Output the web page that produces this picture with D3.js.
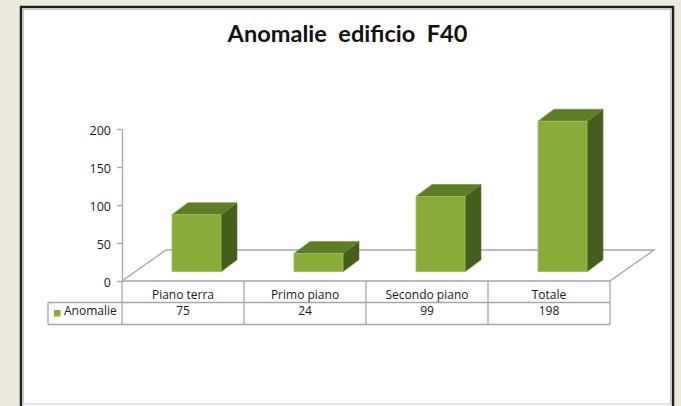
<!DOCTYPE html>
<html>
<head>
<meta charset="utf-8">
<script src="https://cdn.jsdelivr.net/npm/d3@7"></script>
<style>
  html, body { margin: 0; padding: 0; background: #ece9df; }
  svg { display: block; }
</style>
</head>
<body>
<svg id="chart" width="681" height="406"></svg>
<script>
// ---- data ----
const title = "Anomalie  edificio  F40";
const categories = ["Piano terra", "Primo piano", "Secondo piano", "Totale"];
const seriesName = "Anomalie";
const values = [75, 24, 99, 198];
const yTicks = [0, 50, 100, 150, 200];

// ---- layout ----
const svg = d3.select("#chart");
const font = "'Open Sans', 'DejaVu Sans', sans-serif";
const textColor = "#1a1a1a";

// chart frame
svg.append("rect").attr("x", 21).attr("y", 7).attr("width", 652).attr("height", 410)
  .attr("fill", "#ffffff").attr("stroke", "#1e1e1e").attr("stroke-width", 2.5);
svg.append("rect").attr("x", 23.5).attr("y", 9.5).attr("width", 647).attr("height", 394.5)
  .attr("fill", "none").attr("stroke", "#c8c8c8").attr("stroke-width", 1);

// title
const t = svg.append("text").attr("x", 347.5).attr("y", 42)
  .attr("text-anchor", "middle").attr("font-family", "Lato, 'Open Sans', sans-serif")
  .attr("font-weight", "bold").attr("font-size", 21).attr("fill", "#111")
  .style("white-space", "pre").text(title);
const tw = t.node().getComputedTextLength();
t.attr("font-size", 21 * 240 / tw);

const x = d3.scaleBand().domain(categories).range([122, 610]).padding(0);
const y = d3.scaleLinear().domain([0, 200]).range([281, 129]);
const bw = x.bandwidth();

const depth = { dx: 44, dy: -31 };      // floor depth
const baseOff = { dx: 13.5, dy: -9.3 }; // bar base offset into depth
const barDepth = { dx: 16, dy: -12 };
const barW = 49;

const gridColor = "#a6a6a6";

// floor (3D)
const y0 = y(0);
svg.append("path")
  .attr("d", `M${x.range()[0]},${y0} L${x.range()[0] + depth.dx},${y0 + depth.dy} L${x.range()[1] + depth.dx},${y0 + depth.dy} L${x.range()[1]},${y0}`)
  .attr("fill", "none").attr("stroke", gridColor).attr("stroke-width", 1.3);

// y axis
const axis = svg.append("g").attr("transform", `translate(${x.range()[0]},0)`)
  .call(d3.axisLeft(y).tickValues(yTicks).tickSize(5).tickPadding(6).tickSizeOuter(0));
axis.select(".domain").attr("stroke", gridColor).attr("stroke-width", 1.3);
axis.selectAll(".tick line").attr("stroke", gridColor).attr("stroke-width", 1.3);
axis.selectAll(".tick text").attr("font-family", font).attr("font-size", 12.5)
  .attr("fill", textColor).attr("dy", "0.42em");

// bars
const cFront = "#89ab3a", cTop = "#5d7d27", cSide = "#445f1b";
const bars = svg.append("g").selectAll("g").data(categories).join("g");
bars.each(function (c, i) {
  const g = d3.select(this);
  const xl = x(c) + (bw - barW) / 2 + baseOff.dx;
  const xr = xl + barW;
  const yb = y(0) + baseOff.dy;
  const yt = y(values[i]) + baseOff.dy;
  g.append("path")
    .attr("d", `M${xr},${yb} L${xr + barDepth.dx},${yb + barDepth.dy} L${xr + barDepth.dx},${yt + barDepth.dy} L${xr},${yt} Z`)
    .attr("fill", cSide).attr("stroke", "#55722a").attr("stroke-width", 0.6);
  g.append("path")
    .attr("d", `M${xl},${yt} L${xl + barDepth.dx},${yt + barDepth.dy} L${xr + barDepth.dx},${yt + barDepth.dy} L${xr},${yt} Z`)
    .attr("fill", cTop).attr("stroke", "#6f8f35").attr("stroke-width", 0.6);
  g.append("rect").attr("x", xl).attr("y", yt).attr("width", barW).attr("height", yb - yt)
    .attr("fill", cFront).attr("stroke", "#a4c25a").attr("stroke-width", 0.8);
});

// data table
const rowH1 = [281, 302.5], rowH2 = [302.5, 324.5];
const tableLeft = 48;
const tbl = svg.append("g").attr("stroke", gridColor).attr("stroke-width", 1.3).attr("fill", "none");
tbl.append("line").attr("x1", x.range()[0]).attr("x2", x.range()[1]).attr("y1", rowH1[0]).attr("y2", rowH1[0]);
tbl.append("line").attr("x1", tableLeft).attr("x2", x.range()[1]).attr("y1", rowH2[0]).attr("y2", rowH2[0]);
tbl.append("line").attr("x1", tableLeft).attr("x2", x.range()[1]).attr("y1", rowH2[1]).attr("y2", rowH2[1]);
tbl.append("line").attr("x1", tableLeft).attr("x2", tableLeft).attr("y1", rowH2[0]).attr("y2", rowH2[1]);
const bounds = categories.map(c => x(c)).concat([x.range()[1]]);
bounds.forEach(b => tbl.append("line").attr("x1", b).attr("x2", b).attr("y1", rowH1[0]).attr("y2", rowH2[1]));

// header labels
svg.append("g").selectAll("text").data(categories).join("text")
  .attr("x", c => x(c) + bw / 2).attr("y", rowH1[1] - 3.5)
  .attr("text-anchor", "middle").attr("font-family", font).attr("font-size", 12)
  .attr("fill", textColor).text(c => c);
// values
svg.append("g").selectAll("text").data(values).join("text")
  .attr("x", (v, i) => x(categories[i]) + bw / 2).attr("y", rowH2[1] - 10)
  .attr("text-anchor", "middle").attr("font-family", font).attr("font-size", 12)
  .attr("fill", textColor).text(v => v);
// legend key
svg.append("rect").attr("x", 54).attr("y", 310).attr("width", 6.5).attr("height", 6.5).attr("fill", cFront);
svg.append("text").attr("x", 64).attr("y", rowH2[1] - 10)
  .attr("font-family", font).attr("font-size", 12).attr("fill", textColor).text(seriesName);
</script>
</body>
</html>
